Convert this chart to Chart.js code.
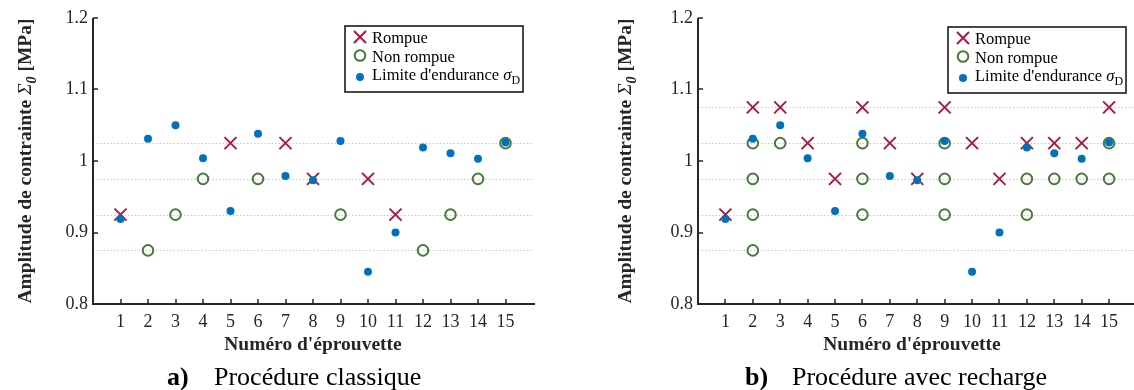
<!DOCTYPE html>
<html>
<head>
<meta charset="utf-8">
<script src="https://cdn.jsdelivr.net/npm/chart.js@4.4.0/dist/chart.umd.min.js"></script>
<style>
html, body { margin: 0; padding: 0; background: #fff; overflow: hidden; width: 1134px; height: 390px; }
#chartA { position: absolute; left: 0; top: 0; }
#chartB { position: absolute; left: 567px; top: 0; }
</style>
</head>
<body>
<canvas id="chartA" width="567" height="390"></canvas>
<canvas id="chartB" width="580" height="390"></canvas>
<script>
// numéros d'éprouvette et graduations
const specimens = [1, 2, 3, 4, 5, 6, 7, 8, 9, 10, 11, 12, 13, 14, 15];
const yTicks = [0.8, 0.9, 1.0, 1.1, 1.2];
const yTickLabels = ['0.8', '0.9', '1', '1.1', '1.2'];

// limite d'endurance estimée (identique sur les deux figures)
const enduranceLimit = [0.919, 1.031, 1.05, 1.004, 0.93, 1.038, 0.979, 0.973, 1.028, 0.845, 0.9, 1.019, 1.011, 1.003, 1.026];

// a) procédure classique
const brokenA_n = [1, 5, 7, 8, 10, 11];
const brokenA_s = [0.925, 1.025, 1.025, 0.975, 0.975, 0.925];
const runoutA_n = [2, 3, 4, 6, 9, 12, 13, 14, 15];
const runoutA_s = [0.875, 0.925, 0.975, 0.975, 0.925, 0.875, 0.925, 0.975, 1.025];
const levelsA = [0.875, 0.925, 0.975, 1.025];

// b) procédure avec recharge
const brokenB_n = [1, 2, 3, 4, 5, 6, 7, 8, 9, 10, 11, 12, 13, 14, 15];
const brokenB_s = [0.925, 1.075, 1.075, 1.025, 0.975, 1.075, 1.025, 0.975, 1.075, 1.025, 0.975, 1.025, 1.025, 1.025, 1.075];
const runoutB_n = [2, 2, 2, 2, 3, 6, 6, 6, 9, 9, 9, 12, 12, 13, 14, 15, 15];
const runoutB_s = [0.875, 0.925, 0.975, 1.025, 1.025, 0.925, 0.975, 1.025, 0.925, 0.975, 1.025, 0.925, 0.975, 0.975, 0.975, 0.975, 1.025];
const levelsB = [0.875, 0.925, 0.975, 1.025, 1.075];

const RED = '#AE1A3C';
const GREEN = '#477A3A';
const BLUE = '#0072BD';
const AXIS = '#262626';
const SERIF = "'Liberation Serif', 'Times New Roman', serif";

function pairs(xs, ys) {
    return xs.map((x, i) => ({x: x, y: ys[i]}));
}

// draws a list of text runs one after the other
function runsWidth(ctx, runs) {
    let w = 0;
    runs.forEach(r => { ctx.font = r.font; w += ctx.measureText(r.text).width; });
    return w;
}
function drawRuns(ctx, runs, x, y) {
    let cx = x;
    runs.forEach(r => {
        ctx.font = r.font;
        ctx.fillText(r.text, cx, y + (r.dy || 0));
        cx += ctx.measureText(r.text).width;
    });
}

function drawMarker(ctx, kind, x, y) {
    ctx.save();
    if (kind == 'cross') {
        const d = 6;
        ctx.strokeStyle = RED; ctx.lineWidth = 2;
        ctx.beginPath();
        ctx.moveTo(x - d, y - d); ctx.lineTo(x + d, y + d);
        ctx.moveTo(x - d, y + d); ctx.lineTo(x + d, y - d);
        ctx.stroke();
    } else if (kind == 'ring') {
        ctx.strokeStyle = GREEN; ctx.lineWidth = 2;
        ctx.beginPath(); ctx.arc(x, y, 5.3, 0, Math.PI * 2); ctx.stroke();
    } else {
        ctx.fillStyle = BLUE;
        ctx.beginPath(); ctx.arc(x, y, 4, 0, Math.PI * 2); ctx.fill();
    }
    ctx.restore();
}

const decor = {
    id: 'decor',
    beforeDatasetsDraw(chart, args, o) {
        const {ctx, chartArea: a} = chart;
        const y = chart.scales.y;
        ctx.save();
        ctx.strokeStyle = '#c8c8c8';
        ctx.lineWidth = 1;
        ctx.setLineDash([1.5, 2]);
        o.levels.forEach(v => {
            const py = Math.round(y.getPixelForValue(v)) + 0.5;
            ctx.beginPath(); ctx.moveTo(a.left, py); ctx.lineTo(a.right, py); ctx.stroke();
        });
        ctx.restore();
    },
    afterDraw(chart, args, o) {
        const {ctx, chartArea: a} = chart;
        const xs = chart.scales.x, ys = chart.scales.y;
        ctx.save();

        // axes + ticks vers l'intérieur
        ctx.strokeStyle = AXIS;
        ctx.lineWidth = 2;
        ctx.beginPath();
        ctx.moveTo(a.left, a.top); ctx.lineTo(a.left, a.bottom); ctx.lineTo(a.right + 2, a.bottom);
        ctx.stroke();
        ctx.lineWidth = 1.5;
        ctx.beginPath();
        specimens.forEach(n => {
            const px = Math.round(xs.getPixelForValue(n));
            ctx.moveTo(px, a.bottom); ctx.lineTo(px, a.bottom - 5);
        });
        yTicks.forEach(v => {
            const py = Math.round(ys.getPixelForValue(v));
            ctx.moveTo(a.left, py); ctx.lineTo(a.left + 5, py);
        });
        ctx.stroke();

        // légende
        const lx = a.left + o.legendDx, ly = a.top + o.legendDy;
        ctx.fillStyle = '#fff';
        ctx.fillRect(lx, ly, 178, 66);
        ctx.strokeStyle = '#1a1a1a';
        ctx.lineWidth = 1.6;
        ctx.strokeRect(lx, ly, 178, 66);
        drawMarker(ctx, 'cross', lx + 15, ly + 11);
        drawMarker(ctx, 'ring', lx + 15, ly + 29.5);
        drawMarker(ctx, 'dot', lx + 15, ly + 51);
        ctx.fillStyle = '#000';
        ctx.textBaseline = 'alphabetic';
        ctx.textAlign = 'left';
        const f16 = '16.5px ' + SERIF;
        drawRuns(ctx, [{text: 'Rompue', font: f16}], lx + 27, ly + 17);
        drawRuns(ctx, [{text: 'Non rompue', font: f16}], lx + 27, ly + 35.5);
        drawRuns(ctx, [
            {text: "Limite d'endurance ", font: f16},
            {text: 'σ', font: 'italic 16.5px ' + SERIF},
            {text: 'D', font: '12px ' + SERIF, dy: 4}
        ], lx + 27, ly + 54);

        // titre de l'axe y (rotation)
        const yRuns = [
            {text: 'Amplitude de contrainte ', font: 'bold 19.5px ' + SERIF},
            {text: 'Σ', font: 'italic 19.5px ' + SERIF},
            {text: '0', font: 'italic bold 14px ' + SERIF, dy: 5},
            {text: ' [MPa]', font: 'bold 19.5px ' + SERIF}
        ];
        const yw = runsWidth(ctx, yRuns);
        ctx.save();
        ctx.translate(o.yTitleX, (a.top + a.bottom) / 2);
        ctx.rotate(-Math.PI / 2);
        ctx.fillStyle = AXIS;
        drawRuns(ctx, yRuns, -yw / 2, 6);
        ctx.restore();

        // titre de l'axe x
        ctx.fillStyle = AXIS;
        ctx.textAlign = 'center';
        ctx.font = 'bold 19.5px ' + SERIF;
        ctx.fillText("Numéro d'éprouvette", o.xTitleX, 350);

        // légende de la sous-figure
        ctx.textAlign = 'left';
        ctx.fillStyle = '#000';
        drawRuns(ctx, [{text: o.caption[0], font: 'bold 26px ' + SERIF}], o.captionX, 385);
        drawRuns(ctx, [{text: o.caption[1], font: '26px ' + SERIF}], o.captionX + 47, 385);
        ctx.restore();
    }
};

function makeChart(id, brokenN, brokenS, runoutN, runoutS, decorOpts, padRight) {
    const data = {
        datasets: [
            {
                label: "Limite d'endurance",
                data: pairs(specimens, enduranceLimit),
                pointStyle: 'circle',
                pointRadius: 4,
                pointBorderWidth: 0,
                backgroundColor: BLUE,
                borderColor: BLUE,
                order: 0
            },
            {
                label: 'Non rompue',
                data: pairs(runoutN, runoutS),
                pointStyle: 'circle',
                pointRadius: 5.3,
                pointBorderWidth: 2,
                backgroundColor: 'rgba(0,0,0,0)',
                borderColor: GREEN,
                order: 1
            },
            {
                label: 'Rompue',
                data: pairs(brokenN, brokenS),
                pointStyle: 'crossRot',
                pointRadius: 8.5,
                pointBorderWidth: 2,
                backgroundColor: RED,
                borderColor: RED,
                order: 2
            }
        ]
    };

    const config = {
        type: 'scatter',
        data: data,
        options: {
            responsive: false,
            animation: false,
            events: [],
            layout: {
                padding: {left: 0, top: 18, right: padRight, bottom: 0}
            },
            scales: {
                x: {
                    type: 'linear',
                    min: 0,
                    max: 16,
                    afterBuildTicks: scale => { scale.ticks = specimens.map(v => ({value: v})); },
                    afterFit: scale => { scale.height = 86; },
                    grid: {display: false, drawTicks: false},
                    border: {display: false},
                    ticks: {
                        color: AXIS,
                        padding: 7,
                        maxRotation: 0,
                        autoSkip: false,
                        font: {family: SERIF, size: 18},
                        callback: v => String(v)
                    }
                },
                y: {
                    type: 'linear',
                    min: 0.8,
                    max: 1.2,
                    afterBuildTicks: scale => { scale.ticks = yTicks.map(v => ({value: v})); },
                    afterFit: scale => { scale.width = decorOpts.axisLeft; },
                    grid: {display: false, drawTicks: false},
                    border: {display: false},
                    ticks: {
                        color: AXIS,
                        padding: 5,
                        autoSkip: false,
                        font: {family: SERIF, size: 18},
                        callback: (v, i) => yTickLabels[i]
                    }
                }
            },
            plugins: {
                legend: {display: false},
                tooltip: {enabled: false},
                decor: decorOpts
            }
        },
        plugins: [decor]
    };
    return new Chart(document.getElementById(id).getContext('2d'), config);
}

makeChart('chartA', brokenA_n, brokenA_s, runoutA_n, runoutA_s, {
    axisLeft: 93,
    levels: levelsA,
    legendDx: 252, legendDy: 8,
    yTitleX: 25,
    xTitleX: 313,
    caption: ['a)', 'Procédure classique'],
    captionX: 167
}, 34);

makeChart('chartB', brokenB_n, brokenB_s, runoutB_n, runoutB_s, {
    axisLeft: 131,
    levels: levelsB,
    legendDx: 250, legendDy: 9,
    yTitleX: 58,
    xTitleX: 345,
    caption: ['b)', 'Procédure avec recharge'],
    captionX: 178
}, 9);
</script>
</body>
</html>
